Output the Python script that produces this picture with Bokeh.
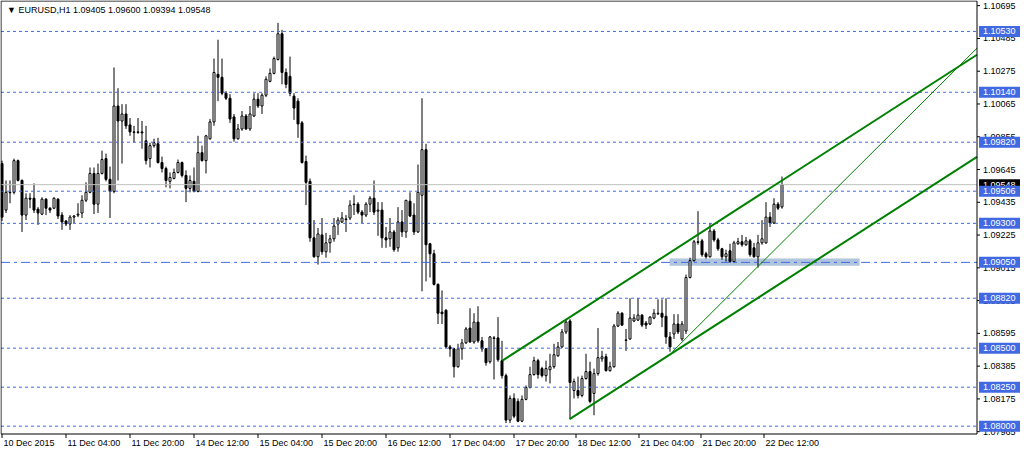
from bokeh.plotting import figure
from bokeh.models import Range1d, ColumnDataSource
from bokeh.core.properties import value
from bokeh.embed import file_html
from bokeh.resources import INLINE

# ---------------- data ----------------
symbol = "EURUSD,H1"

opens = [
    1.09683, 1.09385, 1.09499, 1.09499, 1.09702, 1.09575, 1.09353, 1.09461, 1.09461, 1.09391,
    1.09359, 1.09455, 1.09397, 1.09397, 1.09455, 1.09353, 1.09315, 1.09296, 1.09340, 1.09353,
    1.09366, 1.09448, 1.09499, 1.09620, 1.09423, 1.09620, 1.09715, 1.09582, 1.09505, 1.10052,
    1.09956, 1.10001, 1.09931, 1.09886, 1.09886, 1.09886, 1.09829, 1.09715, 1.09798, 1.09810,
    1.09690, 1.09651, 1.09569, 1.09588, 1.09626, 1.09690, 1.09607, 1.09524, 1.09569, 1.09505,
    1.09753, 1.09702, 1.09842, 1.09950, 1.10255, 1.10236, 1.10134, 1.10102, 1.09982, 1.09842,
    1.09905, 1.09988, 1.09905, 1.09988, 1.10096, 1.10052, 1.10121, 1.10210, 1.10261, 1.10350,
    1.10515, 1.10267, 1.10242, 1.10115, 1.10083, 1.09944, 1.09696, 1.09569, 1.09207, 1.09086,
    1.09226, 1.09118, 1.09175, 1.09201, 1.09296, 1.09309, 1.09328, 1.09334, 1.09423, 1.09423,
    1.09372, 1.09353, 1.09423, 1.09461, 1.09378, 1.09385, 1.09207, 1.09201, 1.09245, 1.09143,
    1.09309, 1.09245, 1.09442, 1.09353, 1.09245, 1.09480, 1.09772, 1.09169, 1.09105, 1.08909,
    1.08731, 1.08743, 1.08508, 1.08496, 1.08381, 1.08496, 1.08534, 1.08629, 1.08540, 1.08667,
    1.08547, 1.08496, 1.08413, 1.08566, 1.08566, 1.08420, 1.08324, 1.08039, 1.08178, 1.08159,
    1.08032, 1.08172, 1.08248, 1.08331, 1.08420, 1.08369, 1.08324, 1.08362, 1.08381, 1.08451,
    1.08508, 1.08604, 1.08674, 1.08229, 1.08229, 1.08197, 1.08305, 1.08350, 1.08210, 1.08337,
    1.08432, 1.08445, 1.08356, 1.08381, 1.08642, 1.08724, 1.08553, 1.08559, 1.08674, 1.08680,
    1.08712, 1.08661, 1.08655, 1.08693, 1.08724, 1.08724, 1.08705, 1.08572, 1.08591, 1.08655,
    1.08559, 1.08610, 1.08953, 1.09061, 1.09182, 1.09188, 1.09105, 1.09086, 1.09251, 1.09194,
    1.09137, 1.09086, 1.09124, 1.09055, 1.09169, 1.09182, 1.09163, 1.09188, 1.09143, 1.09086,
    1.09175, 1.09175, 1.09340, 1.09302, 1.09423, 1.09405,
]
highs = [
    1.09702, 1.09575, 1.09575, 1.09715, 1.09709, 1.09582, 1.09493, 1.09493, 1.09556, 1.09404,
    1.09467, 1.09461, 1.09404, 1.09467, 1.09461, 1.09372, 1.09321, 1.09353, 1.09353, 1.09429,
    1.09480, 1.09563, 1.09658, 1.09658, 1.09683, 1.09766, 1.09747, 1.09664, 1.10299, 1.10166,
    1.10064, 1.10064, 1.09975, 1.09925, 1.09975, 1.09956, 1.09925, 1.09817, 1.09842, 1.09848,
    1.09728, 1.09664, 1.09626, 1.09651, 1.09709, 1.09696, 1.09639, 1.09607, 1.09658, 1.09861,
    1.09798, 1.09867, 1.09969, 1.10356, 1.10477, 1.10356, 1.10147, 1.10128, 1.10001, 1.09937,
    1.10020, 1.10001, 1.10052, 1.10134, 1.10134, 1.10134, 1.10242, 1.10293, 1.10369, 1.10585,
    1.10540, 1.10293, 1.10369, 1.10134, 1.10102, 1.09956, 1.09734, 1.09588, 1.09321, 1.09270,
    1.09334, 1.09239, 1.09226, 1.09334, 1.09340, 1.09372, 1.09353, 1.09448, 1.09480, 1.09436,
    1.09385, 1.09436, 1.09474, 1.09575, 1.09436, 1.09436, 1.09277, 1.09334, 1.09258, 1.09404,
    1.09385, 1.09448, 1.09499, 1.09429, 1.09677, 1.10102, 1.09810, 1.09175, 1.09131, 1.08915,
    1.08870, 1.08750, 1.08521, 1.08502, 1.08528, 1.08559, 1.08635, 1.08756, 1.08724, 1.08769,
    1.08572, 1.08502, 1.08578, 1.08578, 1.08699, 1.08547, 1.08337, 1.08197, 1.08210, 1.08178,
    1.08197, 1.08261, 1.08381, 1.08445, 1.08432, 1.08381, 1.08420, 1.08464, 1.08528, 1.08540,
    1.08623, 1.08680, 1.08686, 1.08305, 1.08318, 1.08324, 1.08464, 1.08413, 1.08369, 1.08629,
    1.08483, 1.08464, 1.08413, 1.08655, 1.08737, 1.08731, 1.08623, 1.08820, 1.08718, 1.08820,
    1.08718, 1.08674, 1.08705, 1.08750, 1.08813, 1.08813, 1.08820, 1.08604, 1.08718, 1.08718,
    1.08674, 1.08972, 1.09080, 1.09194, 1.09378, 1.09201, 1.09118, 1.09302, 1.09264, 1.09207,
    1.09143, 1.09131, 1.09169, 1.09188, 1.09207, 1.09226, 1.09213, 1.09201, 1.09175, 1.09226,
    1.09321, 1.09436, 1.09372, 1.09461, 1.09436, 1.09600,
]
lows = [
    1.09315, 1.09366, 1.09429, 1.09486, 1.09569, 1.09245, 1.09321, 1.09397, 1.09366, 1.09290,
    1.09353, 1.09353, 1.09366, 1.09391, 1.09328, 1.09258, 1.09283, 1.09258, 1.09302, 1.09340,
    1.09334, 1.09436, 1.09493, 1.09359, 1.09366, 1.09613, 1.09569, 1.09334, 1.09493, 1.09575,
    1.09683, 1.09905, 1.09861, 1.09817, 1.09874, 1.09778, 1.09677, 1.09658, 1.09785, 1.09683,
    1.09626, 1.09531, 1.09524, 1.09582, 1.09620, 1.09594, 1.09436, 1.09499, 1.09499, 1.09499,
    1.09696, 1.09620, 1.09836, 1.09925, 1.10083, 1.10121, 1.10090, 1.09944, 1.09823, 1.09836,
    1.09893, 1.09899, 1.09893, 1.09982, 1.10039, 1.10001, 1.10109, 1.10204, 1.10255, 1.10344,
    1.10191, 1.10166, 1.10115, 1.09963, 1.09848, 1.09683, 1.09417, 1.09182, 1.09080, 1.09036,
    1.09099, 1.09080, 1.09112, 1.09182, 1.09226, 1.09302, 1.09245, 1.09321, 1.09353, 1.09359,
    1.09302, 1.09340, 1.09372, 1.09353, 1.09220, 1.09143, 1.09143, 1.09150, 1.09118, 1.09118,
    1.09213, 1.09207, 1.09340, 1.09226, 1.09239, 1.08864, 1.08928, 1.08953, 1.08902, 1.08655,
    1.08655, 1.08502, 1.08445, 1.08312, 1.08375, 1.08426, 1.08528, 1.08534, 1.08528, 1.08534,
    1.08477, 1.08388, 1.08401, 1.08299, 1.08413, 1.08305, 1.08020, 1.08020, 1.08051, 1.08026,
    1.08026, 1.08166, 1.08242, 1.08324, 1.08305, 1.08312, 1.08286, 1.08274, 1.08369, 1.08445,
    1.08502, 1.08591, 1.08045, 1.08178, 1.08178, 1.08185, 1.08299, 1.08147, 1.08070, 1.08324,
    1.08413, 1.08350, 1.08350, 1.08375, 1.08635, 1.08642, 1.08483, 1.08553, 1.08667, 1.08674,
    1.08635, 1.08623, 1.08648, 1.08686, 1.08712, 1.08635, 1.08528, 1.08477, 1.08559, 1.08591,
    1.08547, 1.08591, 1.08947, 1.09055, 1.09163, 1.09086, 1.09074, 1.09080, 1.09182, 1.09124,
    1.09067, 1.09055, 1.09048, 1.09048, 1.09163, 1.09150, 1.09156, 1.09086, 1.09080, 1.09016,
    1.09163, 1.09169, 1.09277, 1.09296, 1.09385, 1.09394,
]
closes = [
    1.09340, 1.09499, 1.09496, 1.09702, 1.09575, 1.09353, 1.09461, 1.09455, 1.09385, 1.09366,
    1.09455, 1.09397, 1.09385, 1.09461, 1.09347, 1.09309, 1.09296, 1.09340, 1.09347, 1.09359,
    1.09448, 1.09499, 1.09620, 1.09423, 1.09620, 1.09709, 1.09582, 1.09505, 1.10052, 1.09956,
    1.10001, 1.09925, 1.09886, 1.09883, 1.09883, 1.09880, 1.09702, 1.09798, 1.09817, 1.09690,
    1.09651, 1.09575, 1.09594, 1.09626, 1.09690, 1.09607, 1.09524, 1.09575, 1.09505, 1.09753,
    1.09702, 1.09861, 1.09950, 1.10267, 1.10236, 1.10134, 1.10102, 1.09969, 1.09842, 1.09905,
    1.09988, 1.09905, 1.10001, 1.10096, 1.10052, 1.10121, 1.10223, 1.10261, 1.10356, 1.10515,
    1.10267, 1.10191, 1.10134, 1.10039, 1.09937, 1.09690, 1.09563, 1.09207, 1.09086, 1.09232,
    1.09118, 1.09175, 1.09201, 1.09283, 1.09321, 1.09334, 1.09324, 1.09417, 1.09420, 1.09372,
    1.09353, 1.09423, 1.09461, 1.09372, 1.09385, 1.09207, 1.09194, 1.09245, 1.09131, 1.09309,
    1.09245, 1.09448, 1.09347, 1.09245, 1.09499, 1.09772, 1.09163, 1.09105, 1.08909, 1.08724,
    1.08721, 1.08508, 1.08496, 1.08381, 1.08496, 1.08534, 1.08623, 1.08540, 1.08667, 1.08547,
    1.08496, 1.08407, 1.08572, 1.08562, 1.08426, 1.08324, 1.08039, 1.08178, 1.08064, 1.08032,
    1.08172, 1.08248, 1.08331, 1.08420, 1.08331, 1.08324, 1.08369, 1.08381, 1.08458, 1.08508,
    1.08604, 1.08667, 1.08280, 1.08286, 1.08197, 1.08305, 1.08350, 1.08159, 1.08337, 1.08439,
    1.08445, 1.08356, 1.08381, 1.08642, 1.08724, 1.08648, 1.08550, 1.08693, 1.08693, 1.08712,
    1.08648, 1.08648, 1.08699, 1.08724, 1.08721, 1.08699, 1.08572, 1.08508, 1.08655, 1.08604,
    1.08655, 1.08953, 1.09061, 1.09182, 1.09178, 1.09099, 1.09086, 1.09251, 1.09194, 1.09137,
    1.09086, 1.09105, 1.09055, 1.09175, 1.09182, 1.09163, 1.09188, 1.09099, 1.09086, 1.09175,
    1.09201, 1.09340, 1.09302, 1.09423, 1.09397, 1.09548,
]

time_labels = ["10 Dec 2015", "11 Dec 04:00", "11 Dec 20:00", "14 Dec 12:00", "15 Dec 04:00",
               "15 Dec 20:00", "16 Dec 12:00", "17 Dec 04:00", "17 Dec 20:00", "18 Dec 12:00",
               "21 Dec 04:00", "21 Dec 20:00", "22 Dec 12:00"]
time_label_bars = [0, 16, 32, 48, 64, 80, 96, 112, 128, 143.5, 159.25, 174.75, 190.5]

price_ticks = [1.07965, 1.08175, 1.08385, 1.08595, 1.08805, 1.09015, 1.09225,
               1.09435, 1.09645, 1.09855, 1.10065, 1.10275, 1.10485, 1.10695]

level_prices = [1.10530, 1.10140, 1.09820, 1.09506, 1.09300, 1.09050, 1.08820, 1.08500, 1.08250, 1.08000]
dashdot_level = 1.09050
bid_price = 1.09548

zone_bars = [166.9, 214.4]
zone_prices = [1.09029, 1.09074]

channel_upper_bars = [125.1, 246.5]
channel_upper_prices = [1.08420, 1.10426]
channel_lower_bars = [141.9, 246.5]
channel_lower_prices = [1.08045, 1.09772]
trend_bars = [167.6, 246.5]
trend_prices = [1.08477, 1.10493]

# ---------------- layout ----------------
FONT = "Liberation Sans"
FS = "9px"
BLUE = "#4169E1"
GREEN = "#008000"

W, H = 1020, 448
PL, PT = 0.5, 0.5        # chart border position inside the canvas (px)
PW, PH = 976, 433        # chart border size (px)
BAR_PX = 4               # pixels per hourly bar, as in the terminal
XL = -0.25
XR = XL + PW / BAR_PX
YB, YT = 1.07950, 1.10725

bpp = 1.0 / BAR_PX       # bars per pixel
ppp = (YT - YB) / PH     # price per pixel
x_start = XL - PL * bpp
x_end = x_start + W * bpp
y_end = YT + PT * ppp
y_start = y_end - H * ppp


def dx(px):
    return px * bpp


def dy(px):
    return px * ppp


def clip_right(xs, ys, xmax):
    """Cut a two-point line at the right edge of the chart area."""
    if xs[1] <= xmax:
        return xs, ys
    t = (xmax - xs[0]) / (xs[1] - xs[0])
    return [xs[0], xmax], [ys[0], ys[0] + t * (ys[1] - ys[0])]


p = figure(width=W, height=H, output_backend="svg", toolbar_location=None,
           x_range=Range1d(x_start, x_end), y_range=Range1d(y_start, y_end),
           x_axis_location=None, y_axis_location=None, min_border=0)
p.grid.visible = False
p.outline_line_color = None
p.background_fill_color = "white"
p.border_fill_color = "white"

# support zone (background object)
p.quad(left=[zone_bars[0]], right=[zone_bars[1]], bottom=[zone_prices[0]], top=[zone_prices[1]],
       fill_color="#B0C4DE", line_color=None)

# candles
bars = list(range(len(opens)))
bull = [c >= o for o, c in zip(opens, closes)]
src = ColumnDataSource(dict(
    x=bars,
    hi=[max(h, o, c) for h, o, c in zip(highs, opens, closes)],
    lo=[min(l, o, c) for l, o, c in zip(lows, opens, closes)],
    top=[max(o, c) for o, c in zip(opens, closes)],
    bot=[min(o, c) for o, c in zip(opens, closes)],
    fill=["white" if b else "black" for b in bull],
))
p.segment(x0="x", y0="lo", x1="x", y1="hi", source=src, line_color="black", line_width=1)
p.vbar(x="x", width=0.5, top="top", bottom="bot", source=src,
       fill_color="fill", line_color="black", line_width=1)

# horizontal levels
plain = [lv for lv in level_prices if lv != dashdot_level]
p.segment(x0=[XL] * len(plain), x1=[XR] * len(plain), y0=plain, y1=plain,
          line_color=BLUE, line_width=1, line_dash="3 3")
p.segment(x0=[XL], x1=[XR], y0=[dashdot_level], y1=[dashdot_level],
          line_color=BLUE, line_width=1, line_dash="9 4 3 4")
p.segment(x0=[XL], x1=[XR], y0=[bid_price], y1=[bid_price], line_color="#C0C0C0", line_width=1)

# trend lines
ux, uy = clip_right(channel_upper_bars, channel_upper_prices, XR)
lx, ly = clip_right(channel_lower_bars, channel_lower_prices, XR)
tx, ty = clip_right(trend_bars, trend_prices, XR)
p.line(ux, uy, line_color=GREEN, line_width=2)
p.line(lx, ly, line_color=GREEN, line_width=2)
p.line(tx, ty, line_color=GREEN, line_width=1)

# chart border
p.quad(left=[XL], right=[XR], bottom=[YB], top=[YT], fill_color=None, line_color="black", line_width=1)

# right price scale
n = len(price_ticks)
p.segment(x0=[XR] * n, x1=[XR + dx(3)] * n, y0=price_ticks, y1=price_ticks, line_color="black")
p.text(x=[XR + dx(6)] * n, y=price_ticks, text=[f"{t:.5f}" for t in price_ticks],
       text_font=value(FONT), text_font_size=value(FS), text_color="black",
       text_align="left", text_baseline="middle")

# current price box (black) then level boxes (blue)
p.quad(left=[XR + dx(2)], right=[XR + dx(43)], bottom=[bid_price - dy(5.5)], top=[bid_price + dy(5.5)],
       fill_color="black", line_color=None)
p.text(x=[XR + dx(6)], y=[bid_price], text=[f"{bid_price:.5f}"], text_font=value(FONT),
       text_font_size=value(FS), text_color="white", text_align="left", text_baseline="middle")
m = len(level_prices)
p.quad(left=[XR + dx(2)] * m, right=[XR + dx(43)] * m,
       bottom=[lv - dy(5.5) for lv in level_prices], top=[lv + dy(5.5) for lv in level_prices],
       fill_color=BLUE, line_color=None)
p.text(x=[XR + dx(6)] * m, y=level_prices, text=[f"{lv:.5f}" for lv in level_prices],
       text_font=value(FONT), text_font_size=value(FS), text_color="white",
       text_align="left", text_baseline="middle")

# bottom time scale
k = len(time_label_bars)
p.segment(x0=time_label_bars, x1=time_label_bars, y0=[YB] * k, y1=[YB - dy(4)] * k, line_color="black")
p.text(x=[tb + dx(1.5) for tb in time_label_bars], y=[YB - dy(4)] * k, text=time_labels,
       text_font=value(FONT), text_font_size=value(FS), text_color="black",
       text_align="left", text_baseline="top")

# title
title = "\u25BC " + symbol + "  " + " ".join(f"{v:.5f}" for v in (opens[-1], highs[-1], lows[-1], closes[-1]))
p.text(x=[XL + dx(6)], y=[YT - dy(9)], text=[title], text_font=value(FONT), text_font_size=value(FS),
       text_color="black", text_align="left", text_baseline="middle")

open("out.html", "w").write(file_html(p, INLINE))
